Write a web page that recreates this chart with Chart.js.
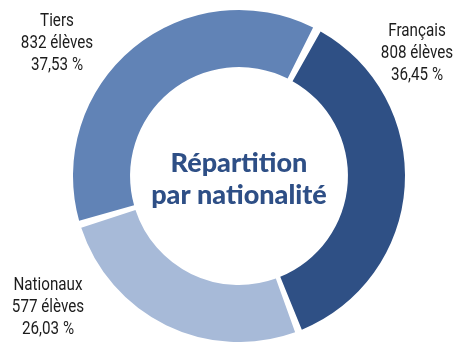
<!DOCTYPE html>
<html>
<head>
<meta charset="utf-8">
<script src="https://cdn.jsdelivr.net/npm/chart.js@4"></script>
<style>
  html, body { margin: 0; padding: 0; background: #fff; overflow: hidden; }
  #wrap { width: 457px; height: 342px; position: relative; }
</style>
</head>
<body>
<div id="wrap"><canvas id="chart"></canvas></div>
<script>
// Élèves par nationalité
var categories = ['Français', 'Nationaux', 'Tiers'];
var eleves = [808, 577, 832];
var pourcents = ['36,45 %', '26,03 %', '37,53 %'];
var colors = ['#2f5085', '#a7bad8', '#6183b6'];

var LABEL_FONT = '19px Roboto, "Liberation Sans", sans-serif';
var LABEL_SQUEEZE = 0.8;   // condensed look for the side labels
var TITLE_FONT = '900 27px Lato, "Open Sans", sans-serif';

// label block position (x centre, first baseline) relative to the ring centre
var labelAnchors = {
  'Français': [178, -140],
  'Nationaux': [-191, 114],
  'Tiers': [-182, -150]
};

function squeezedText(ctx, txt, x, y, k) {
  ctx.save();
  ctx.translate(x, y);
  ctx.scale(k, 1);
  ctx.fillText(txt, 0, 0);
  ctx.restore();
}

// labels outside the ring + title in the hole
var outsideLabels = {
  id: 'outsideLabels',
  afterDraw(chart) {
    const ctx = chart.ctx;
    const arc = chart.getDatasetMeta(0).data[0];
    if (!arc) return;
    const cx = arc.x, cy = arc.y;
    ctx.save();
    ctx.textAlign = 'center';
    ctx.textBaseline = 'alphabetic';
    ctx.fillStyle = '#1c1c1c';
    ctx.font = LABEL_FONT;
    categories.forEach(function(cat, i) {
      const a = labelAnchors[cat];
      const x = cx + a[0], y = cy + a[1];
      squeezedText(ctx, cat, x, y, LABEL_SQUEEZE);
      squeezedText(ctx, eleves[i] + ' élèves', x, y + 22, LABEL_SQUEEZE);
      squeezedText(ctx, pourcents[i], x, y + 44, LABEL_SQUEEZE);
    });
    ctx.fillStyle = '#2e4f86';
    ctx.font = TITLE_FONT;
    ctx.fillText('Répartition', cx, cy - 4);
    ctx.fillText('par nationalité', cx, cy + 28);
    ctx.restore();
  }
};

new Chart(document.getElementById('chart'), {
  type: 'doughnut',
  data: {
    labels: categories,
    datasets: [{
      data: eleves,
      backgroundColor: colors,
      borderWidth: 0,
      spacing: 6,
      hoverOffset: 0
    }]
  },
  options: {
    responsive: true,
    maintainAspectRatio: false,
    animation: false,
    rotation: 28,
    cutout: '65%',
    layout: { padding: { left: 72, right: 51, top: 10, bottom: -2 } },
    plugins: {
      legend: { display: false },
      tooltip: { enabled: false }
    }
  },
  plugins: [outsideLabels]
});
</script>
</body>
</html>
